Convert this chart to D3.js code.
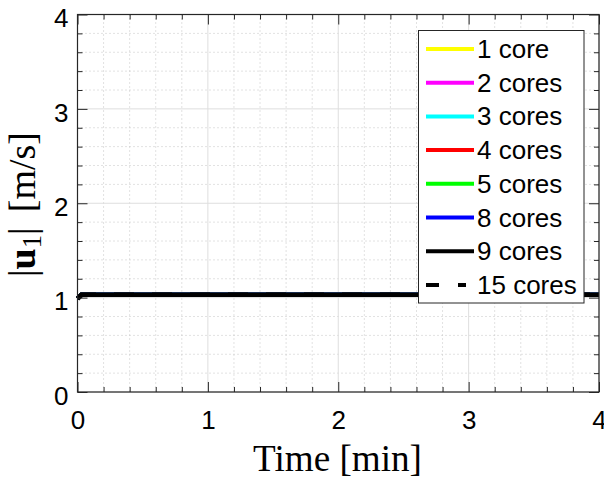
<!DOCTYPE html>
<html><head><meta charset="utf-8">
<script src="https://cdn.jsdelivr.net/npm/d3@7"></script>
<style>html,body{margin:0;padding:0;background:#fff;}</style>
</head><body>
<svg id="c" width="604" height="484"></svg>
<script>
const times = [0, 0.03, 0.5, 1, 1.5, 2, 2.5, 3, 3.5, 4];
const seriesNames = ["1 core","2 cores","3 cores","4 cores","5 cores","8 cores","9 cores","15 cores"];
const seriesColors = ["#ffff00","#ff00ff","#00ffff","#ff0000","#00ff00","#0000ff","#000000","#000000"];
const seriesDash = [null,null,null,null,null,null,null,"20,18"];
const v1  = [0.99,1.03,1.03,1.03,1.03,1.03,1.03,1.03,1.03,1.03];
const v2  = [0.99,1.03,1.03,1.03,1.03,1.03,1.03,1.03,1.03,1.03];
const v3  = [0.99,1.03,1.03,1.03,1.03,1.03,1.03,1.03,1.03,1.03];
const v4  = [0.99,1.03,1.03,1.03,1.03,1.03,1.03,1.03,1.03,1.03];
const v5  = [0.99,1.03,1.03,1.03,1.03,1.03,1.03,1.03,1.03,1.03];
const v8  = [0.99,1.03,1.03,1.03,1.03,1.03,1.03,1.03,1.03,1.03];
const v9  = [0.99,1.03,1.03,1.03,1.03,1.03,1.03,1.03,1.03,1.03];
const v15 = [0.99,1.03,1.03,1.03,1.03,1.03,1.03,1.03,1.03,1.03];
const seriesValues = [v1,v2,v3,v4,v5,v8,v9,v15];
const xTicks = [0,1,2,3,4];
const yTicks = [0,1,2,3,4];
const minorTicks = d3.range(0, 4.0001, 0.2).filter(d => Math.abs(d - Math.round(d)) > 1e-6);

const svg = d3.select("#c");
const L = 77.5, R = 599, T = 14.5, B = 392;
const x = d3.scaleLinear().domain([0,4]).range([L,R]);
const y = d3.scaleLinear().domain([0,4]).range([B,T]);
const axisCol = "#262626";

// minor grid (dotted)
const g = svg.append("g");
minorTicks.forEach(t => {
  g.append("line").attr("x1",x(t)).attr("x2",x(t)).attr("y1",T).attr("y2",B)
    .attr("stroke","#c4c4c4").attr("stroke-width",1).attr("stroke-dasharray","1,3");
  g.append("line").attr("y1",y(t)).attr("y2",y(t)).attr("x1",L).attr("x2",R)
    .attr("stroke","#c4c4c4").attr("stroke-width",1).attr("stroke-dasharray","1,3");
});
// major grid
xTicks.forEach(t => g.append("line").attr("x1",x(t)).attr("x2",x(t)).attr("y1",T).attr("y2",B).attr("stroke","#dedede").attr("stroke-width",1));
yTicks.forEach(t => g.append("line").attr("y1",y(t)).attr("y2",y(t)).attr("x1",L).attr("x2",R).attr("stroke","#dedede").attr("stroke-width",1));

// data lines
const line = d3.line().x((d,i) => x(times[i])).y(d => y(d));
seriesValues.forEach((vals, k) => {
  svg.append("path").datum(vals).attr("d", line).attr("fill","none")
    .attr("stroke", seriesColors[k]).attr("stroke-width", 4.5)
    .attr("stroke-dasharray", seriesDash[k]);
});

// axes with inner ticks
function styleAxis(sel){
  sel.select(".domain").remove();
  sel.selectAll("line").attr("stroke",axisCol).attr("stroke-width",1);
  sel.selectAll("text").attr("fill","#000").style("font-family","'Liberation Sans', Arial, sans-serif").style("font-size","26px");
}
const ax = svg.append("g").attr("transform",`translate(0,${B})`)
  .call(d3.axisBottom(x).tickValues(xTicks).tickFormat(d3.format("d")).tickSizeInner(-10).tickSizeOuter(0).tickPadding(19));
styleAxis(ax);
const ax2 = svg.append("g").attr("transform",`translate(0,${B})`)
  .call(d3.axisBottom(x).tickValues(minorTicks).tickFormat("").tickSizeInner(-5).tickSizeOuter(0));
styleAxis(ax2);
const axT = svg.append("g").attr("transform",`translate(0,${T})`)
  .call(d3.axisTop(x).tickValues(xTicks).tickFormat("").tickSizeInner(-10).tickSizeOuter(0));
styleAxis(axT);
const axT2 = svg.append("g").attr("transform",`translate(0,${T})`)
  .call(d3.axisTop(x).tickValues(minorTicks).tickFormat("").tickSizeInner(-5).tickSizeOuter(0));
styleAxis(axT2);
const ay = svg.append("g").attr("transform",`translate(${L},0)`)
  .call(d3.axisLeft(y).tickValues(yTicks).tickFormat(d3.format("d")).tickSizeInner(-10).tickSizeOuter(0).tickPadding(9));
styleAxis(ay);
ay.selectAll("text").attr("dy","0.47em");
const ay2 = svg.append("g").attr("transform",`translate(${L},0)`)
  .call(d3.axisLeft(y).tickValues(minorTicks).tickFormat("").tickSizeInner(-5).tickSizeOuter(0));
styleAxis(ay2);
const ayR = svg.append("g").attr("transform",`translate(${R},0)`)
  .call(d3.axisRight(y).tickValues(yTicks).tickFormat("").tickSizeInner(-10).tickSizeOuter(0));
styleAxis(ayR);
const ayR2 = svg.append("g").attr("transform",`translate(${R},0)`)
  .call(d3.axisRight(y).tickValues(minorTicks).tickFormat("").tickSizeInner(-5).tickSizeOuter(0));
styleAxis(ayR2);

// box
svg.append("rect").attr("x",L).attr("y",T).attr("width",R-L).attr("height",B-T)
  .attr("fill","none").attr("stroke",axisCol).attr("stroke-width",1.2);

// fit a text's length to a target by scaling its font size
function fitLen(sel, target, base){
  const w = sel.node().getBBox().width;
  if (w > 0) sel.style("font-size", (base * target / w) + "px");
}

// axis labels
const xl = svg.append("text").attr("x",337.5).attr("y",471).attr("text-anchor","middle")
  .style("font-family","'Liberation Serif','Times New Roman',serif").style("font-size","36px")
  .text("Time [min]");
fitLen(xl, 169, 36);

const yl = svg.append("text").attr("transform",`translate(35,204.5) rotate(-90)`)
  .attr("text-anchor","middle")
  .style("font-family","'Liberation Serif','Times New Roman',serif").style("font-size","36px");
yl.append("tspan").text("|");
yl.append("tspan").style("font-weight","bold").text("u");
yl.append("tspan").attr("dy",6).style("font-size","0.7em").text("1");
yl.append("tspan").attr("dy",-6).text("|\u2009\u2009[m/s]");
fitLen(yl, 145, 36);

// legend
const lg = svg.append("g");
lg.append("rect").attr("x",418.5).attr("y",30.5).attr("width",165.5).attr("height",272.5)
  .attr("fill","#fff").attr("stroke","#262626").attr("stroke-width",1);
seriesNames.forEach((nm,k) => {
  const cy = 49 + k*33.7;
  lg.append("line").attr("x1",426).attr("x2",474).attr("y1",cy).attr("y2",cy)
    .attr("stroke",seriesColors[k]).attr("stroke-width",4)
    .attr("stroke-dasharray", seriesDash[k] ? "13,19,8" : null);
  lg.append("text").attr("x",477).attr("y",cy+9)
    .style("font-family","'Liberation Sans', Arial, sans-serif").style("font-size","26px")
    .text(nm);
});
</script>
</body></html>
